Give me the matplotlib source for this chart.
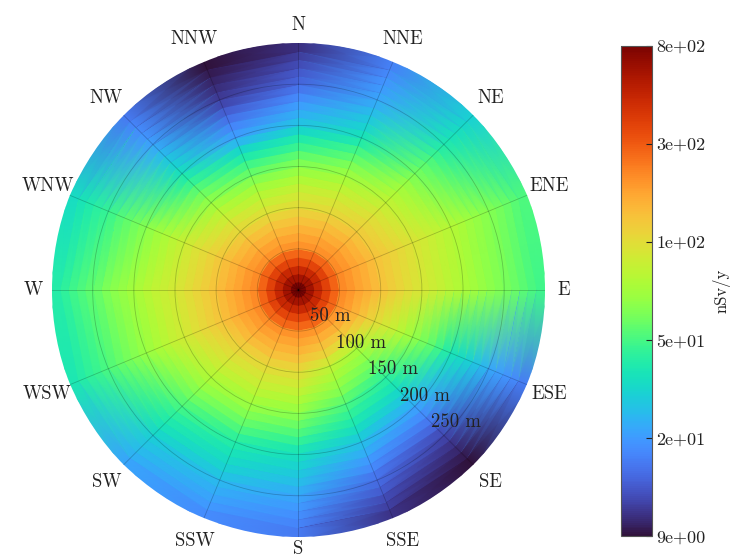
import numpy as np
import matplotlib
matplotlib.use('Agg')
from matplotlib import pyplot as plt
from matplotlib.colors import LogNorm
from matplotlib.ticker import NullLocator

plt.rcParams['font.family'] = 'serif'
plt.rcParams['font.serif'] = ['cmr10']
plt.rcParams['mathtext.fontset'] = 'cm'
plt.rcParams['axes.unicode_minus'] = False

directions = ['N', 'NNE', 'NE', 'ENE', 'E', 'ESE', 'SE', 'SSE',
              'S', 'SSW', 'SW', 'WSW', 'W', 'WNW', 'NW', 'NNW']
r_edges = list(range(0, 310, 10))  # m
ring_labels = [50, 100, 150, 200, 250]

# annual dose (nSv/y) per 10 m ring, from the centre outwards
dose_N = [800, 630, 490, 380, 300, 232, 210, 190, 168, 148, 130, 117, 105, 92, 80,
          69, 60, 51, 43, 35, 29, 25.5, 22.5, 19.5, 17, 15.2, 14, 12.8, 11.8, 10.8]
dose_NNE = [800, 630, 490, 380, 300, 232, 212, 192, 172, 152, 135, 123, 111, 100, 88,
            78, 69, 60, 52, 44, 38, 34, 31, 28, 25, 23.4, 22.2, 21, 19.8, 18.6]
dose_NE = [800, 635, 495, 385, 305, 238, 220, 202, 184, 166, 150, 140, 130, 120, 110,
           101, 93, 85, 78, 71, 65, 60, 55, 50, 45, 42, 39, 37, 35, 33]
dose_ENE = [800, 640, 500, 390, 310, 245, 228, 211, 194, 178, 164, 155, 146, 138, 130,
            122, 116, 110, 104, 98, 93, 88, 83, 79, 75, 71, 67, 63, 59, 56]
dose_E = [800, 640, 500, 390, 310, 245, 228, 211, 194, 178, 164, 153, 143, 133, 124,
          117, 111, 105, 99, 94, 89, 84, 79, 75, 71, 67, 63, 59, 55, 52]
dose_ESE = [800, 635, 495, 385, 305, 234, 212, 190, 168, 146, 130, 118, 107, 95, 84,
            75, 67, 60, 52, 45, 39, 36, 33, 30, 27, 24, 22.5, 21, 19.5, 18]
dose_SE = [800, 630, 490, 380, 300, 222, 192, 162, 133, 104, 84, 76, 67, 59, 51,
           45, 40, 35, 30.5, 26, 22.5, 20, 17.5, 15.2, 13.2, 12, 11, 10.2, 9.5, 9]
dose_SSE = [800, 630, 490, 380, 300, 224, 196, 170, 144, 118, 98, 88, 79, 70, 61,
            53.5, 48, 42.5, 37, 32, 28, 25, 22, 19.5, 17, 15.5, 14.2, 13, 12, 11]
dose_S = [800, 630, 490, 380, 300, 232, 210, 188, 166, 145, 127, 115, 103, 92, 81,
          72, 64, 56, 49, 42, 37, 34, 31, 28.2, 25.4, 23.3, 21.9, 20.5, 19.1, 17.7]
dose_SSW = [800, 630, 490, 380, 300, 232, 211, 190, 169, 148, 132, 120, 109, 98, 87,
            78, 70, 62, 55, 48, 43, 39.5, 36, 33, 30, 27, 25, 23.5, 22, 20]
dose_SW = [800, 630, 490, 380, 300, 235, 215, 195, 175, 156, 140, 129, 118, 107, 97,
           88, 80, 72, 65, 58, 52, 47.5, 43.5, 39.5, 35.5, 32, 30, 28, 26, 24]
dose_WSW = [800, 640, 500, 390, 310, 243, 226, 209, 192, 175, 160, 150, 140, 130, 120,
            112, 105, 97, 90, 83, 77, 72, 67, 62, 58, 54, 51, 48, 45, 42]
dose_W = [800, 640, 500, 390, 310, 245, 228, 211, 194, 178, 164, 153, 143, 133, 124,
          116, 109, 103, 96, 90, 84, 79, 74, 69, 64, 60, 56, 52, 48, 45]
dose_WNW = [800, 640, 500, 390, 310, 242, 225, 207, 190, 172, 157, 146, 135, 125, 115,
            106, 98, 91, 84, 77, 71, 66, 61, 57, 52, 49, 46, 43, 40, 37]
dose_NW = [800, 635, 495, 385, 305, 234, 213, 193, 172, 152, 135, 123, 110, 98, 86,
           75, 66, 58, 50, 43, 37, 33.5, 30.5, 27.5, 24.5, 22.4, 21.2, 20, 18.8, 17.6]
dose_NNW = [800, 630, 490, 380, 300, 230, 208, 186, 164, 142, 123, 110, 97, 84, 72,
            61, 52, 43, 35, 27, 22, 19, 16.5, 14.2, 12.4, 11.4, 10.6, 10, 9.5, 9]


def main():
    dose = np.array([dose_N, dose_NNE, dose_NE, dose_ENE, dose_E, dose_ESE,
                     dose_SE, dose_SSE, dose_S, dose_SSW, dose_SW, dose_WSW,
                     dose_W, dose_WNW, dose_NW, dose_NNW]).T
    n_dir = len(directions)
    theta_c = np.deg2rad(np.arange(n_dir) * 22.5)

    # nodes sit on the compass directions (closing back on N); each ring keeps
    # its own value across its width, colours blend only between directions
    theta_nodes = np.deg2rad(np.arange(n_dir + 1) * 22.5)
    vals = np.hstack([dose, dose[:, :1]])
    r_in = np.array(r_edges[:-1], dtype=float)
    r_out = np.array(r_edges[1:], dtype=float)
    # straight chords between nodes: push the outermost one out to cover the rim
    r_out[-1] = r_edges[-1] / np.cos(np.deg2rad(11.25))
    r_nodes = np.column_stack([r_in, r_out]).ravel()
    T, R = np.meshgrid(theta_nodes, r_nodes)
    C = np.repeat(vals, 2, axis=0)

    fig = plt.figure(figsize=(7.31, 5.59), dpi=100)
    ax = fig.add_axes([0.0705, 0.0395, 0.6755, 0.8835], projection='polar')
    ax.set_theta_zero_location('N')
    ax.set_theta_direction(-1)

    norm = LogNorm(vmin=9, vmax=800)
    mesh = ax.pcolormesh(T, R, C, cmap='turbo', norm=norm, shading='gouraud')
    ax.set_ylim(0, 300)

    ax.set_xticks(theta_c)
    ax.set_xticklabels([])
    ax.set_yticks(ring_labels)
    ax.set_yticklabels([])
    ax.tick_params(length=0)
    ax.grid(True, color='k', alpha=0.22, linewidth=0.6)
    ax.spines['polar'].set_visible(False)

    for t, name in zip(theta_c, directions):
        if name == 'S':
            r_txt = 315
        elif len(name) == 1:
            r_txt = 322
        else:
            r_txt = 330
        ax.text(t, r_txt, name, ha='center', va='center', fontsize=13.5,
                color='#222222', clip_on=False)
    for r in ring_labels:
        ax.text(np.deg2rad(130), r, f'{r} m', ha='center', va='center',
                fontsize=13.5, color='#222222')

    cax = fig.add_axes([0.849, 0.041, 0.0424, 0.877])
    cb = fig.colorbar(mesh, cax=cax)
    ticks = np.logspace(np.log10(9), np.log10(800), 6)
    cb.set_ticks(ticks)
    cb.set_ticklabels(['%.0e' % t for t in ticks])
    cb.ax.yaxis.set_minor_locator(NullLocator())
    cb.ax.tick_params(direction='in', length=4, width=0.8, labelsize=13,
                      colors='#222222')
    cb.outline.set_edgecolor('#555555')
    cb.outline.set_linewidth(0.8)
    cb.set_label('nSv/y', fontsize=12, color='#222222', labelpad=5)

    fig.savefig('out.png', dpi=100)


if __name__ == '__main__':
    main()
